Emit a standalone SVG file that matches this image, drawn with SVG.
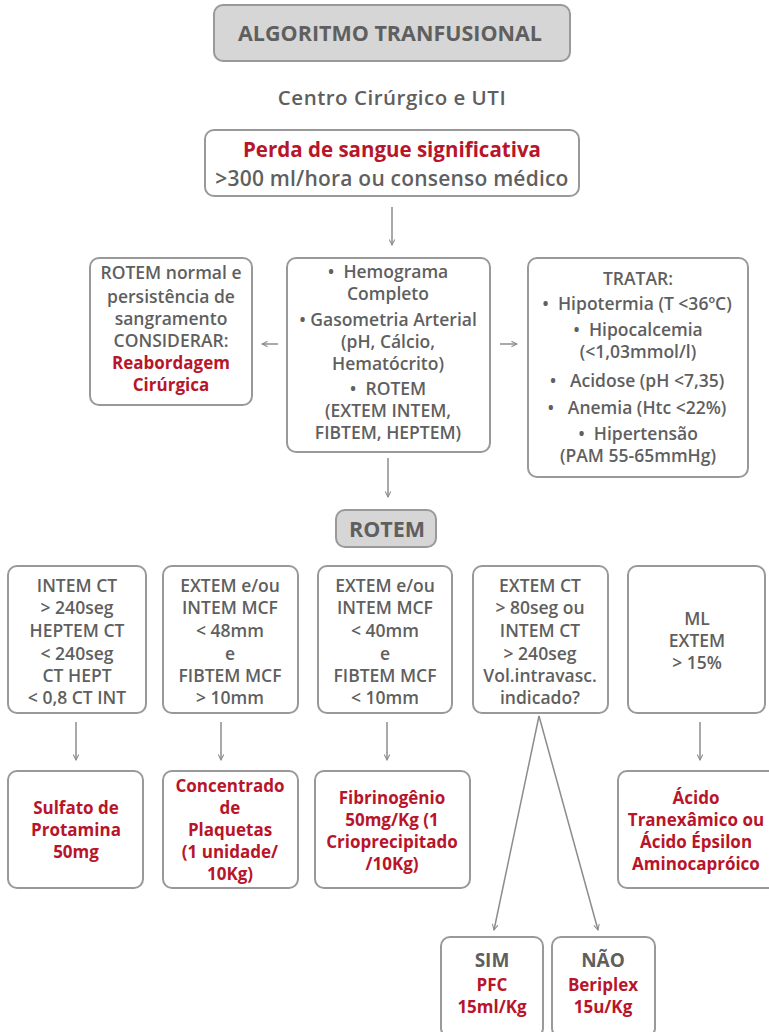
<svg xmlns="http://www.w3.org/2000/svg" width="769" height="1032" viewBox="0 0 769 1032">
<defs>
<style>
.box{fill:#fff;stroke:#999;stroke-width:2}
.gbox{fill:#d6d6d6;stroke:#999;stroke-width:2}
text{font-family:"Open Sans",Lato,"Liberation Sans",sans-serif;text-anchor:middle;fill:#5f5f5f;white-space:pre;font-weight:600}
.t{font-size:17.5px}
.s{font-size:17.5px}
.r{fill:#b8152a;font-weight:bold;font-size:17px}
.h{font-weight:bold;font-size:21.5px}
.c line{stroke:#8c8c8c;stroke-width:1.5;fill:none}
</style>
<marker id="ah" viewBox="0 0 10 10" refX="9" refY="5" markerWidth="7" markerHeight="7" orient="auto" markerUnits="userSpaceOnUse">
<path d="M1,1 L9,5 L1,9" fill="none" stroke="#8c8c8c" stroke-width="1.5"/>
</marker>
</defs>
<rect width="769" height="1032" fill="#fff"/>

<g id="title">
<rect class="gbox" x="214" y="5" width="356" height="56" rx="9"/>
<text class="h" x="390" y="41">ALGORITMO TRANFUSIONAL</text>
</g>
<g id="subtitle">
<text x="392" y="105" style="font-size:20.5px;letter-spacing:0.5px">Centro Cirúrgico e UTI</text>
</g>
<g id="perda">
<rect class="box" x="205" y="130" width="374" height="66" rx="9"/>
<text x="392" y="157" style="fill:#b8152a;font-weight:bold;font-size:20.5px">Perda de sangue significativa</text>
<text x="392" y="186" style="font-size:21px;letter-spacing:0.2px">&gt;300 ml/hora ou consenso médico</text>
</g>

<g id="rotem-normal">
<rect class="box" x="90" y="258" width="162" height="147" rx="9"/>
<text class="t" x="171" y="279">ROTEM normal e</text>
<text class="t" x="171" y="303">persistência de</text>
<text class="t" x="171" y="325">sangramento</text>
<text class="t" x="171" y="347">CONSIDERAR:</text>
<text class="r" x="171" y="369">Reabordagem</text>
<text class="r" x="171" y="391">Cirúrgica</text>
</g>
<g id="exames">
<rect class="box" x="287" y="258" width="203" height="194" rx="9"/>
<text class="t" x="388" y="278">•  Hemograma</text>
<text class="t" x="388" y="300">Completo</text>
<text class="t" x="388" y="326">• Gasometria Arterial</text>
<text class="t" x="388" y="348">(pH, Cálcio,</text>
<text class="t" x="388" y="370">Hematócrito)</text>
<text class="t" x="388" y="395">•  ROTEM</text>
<text class="t" x="388" y="417">(EXTEM INTEM,</text>
<text class="t" x="388" y="439">FIBTEM, HEPTEM)</text>
</g>
<g id="tratar">
<rect class="box" x="528" y="258" width="220" height="219" rx="9"/>
<text class="t" x="638" y="285">TRATAR:</text>
<text class="t" x="637" y="310">•  Hipotermia (T &lt;36ºC)</text>
<text class="t" x="638" y="336">•  Hipocalcemia</text>
<text class="t" x="638" y="358">(&lt;1,03mmol/l)</text>
<text class="t" x="637" y="387">•   Acidose (pH &lt;7,35)</text>
<text class="t" x="637" y="414">•   Anemia (Htc &lt;22%)</text>
<text class="t" x="638" y="440">•  Hipertensão</text>
<text class="t" x="638" y="462">(PAM 55-65mmHg)</text>
</g>

<g id="rotem">
<rect class="gbox" x="336" y="510" width="100" height="37" rx="9"/>
<text class="h" x="387" y="537">ROTEM</text>
</g>

<g id="c1">
<rect class="box" x="8" y="566" width="138" height="147" rx="9"/>
<text class="s" x="77" y="592">INTEM CT</text>
<text class="s" x="77" y="614">&gt; 240seg</text>
<text class="s" x="77" y="637">HEPTEM CT</text>
<text class="s" x="77" y="660">&lt; 240seg</text>
<text class="s" x="77" y="682">CT HEPT</text>
<text class="s" x="77" y="704">&lt; 0,8 CT INT</text>
</g>
<g id="c2">
<rect class="box" x="163" y="566" width="135" height="147" rx="9"/>
<text class="s" x="230" y="592">EXTEM e/ou</text>
<text class="s" x="230" y="614">INTEM MCF</text>
<text class="s" x="230" y="637">&lt; 48mm</text>
<text class="s" x="230" y="660">e</text>
<text class="s" x="230" y="682">FIBTEM MCF</text>
<text class="s" x="230" y="704">&gt; 10mm</text>
</g>
<g id="c3">
<rect class="box" x="318" y="566" width="134" height="147" rx="9"/>
<text class="s" x="385" y="592">EXTEM e/ou</text>
<text class="s" x="385" y="614">INTEM MCF</text>
<text class="s" x="385" y="637">&lt; 40mm</text>
<text class="s" x="385" y="660">e</text>
<text class="s" x="385" y="682">FIBTEM MCF</text>
<text class="s" x="385" y="704">&lt; 10mm</text>
</g>
<g id="c4">
<rect class="box" x="473" y="566" width="135" height="147" rx="9"/>
<text class="s" x="540" y="592">EXTEM CT</text>
<text class="s" x="540" y="614">&gt; 80seg ou</text>
<text class="s" x="540" y="637">INTEM CT</text>
<text class="s" x="540" y="660">&gt; 240seg</text>
<text class="s" x="540" y="682">Vol.intravasc.</text>
<text class="s" x="540" y="704">indicado?</text>
</g>
<g id="c5">
<rect class="box" x="628" y="566" width="137" height="147" rx="9"/>
<text class="s" x="697" y="625">ML</text>
<text class="s" x="697" y="647">EXTEM</text>
<text class="s" x="697" y="669">&gt; 15%</text>
</g>

<g id="d1">
<rect class="box" x="8" y="771" width="135" height="117" rx="9"/>
<text class="r" x="76" y="814">Sulfato de</text>
<text class="r" x="76" y="836">Protamina</text>
<text class="r" x="76" y="858">50mg</text>
</g>
<g id="d2">
<rect class="box" x="163" y="771" width="135" height="117" rx="9"/>
<text class="r" x="230" y="792">Concentrado</text>
<text class="r" x="230" y="814">de</text>
<text class="r" x="230" y="836">Plaquetas</text>
<text class="r" x="230" y="858">(1 unidade/</text>
<text class="r" x="230" y="880">10Kg)</text>
</g>
<g id="d3">
<rect class="box" x="315" y="771" width="155" height="117" rx="9"/>
<text class="r" x="392" y="804">Fibrinogênio</text>
<text class="r" x="392" y="826">50mg/Kg (1</text>
<text class="r" x="392" y="848">Crioprecipitado</text>
<text class="r" x="392" y="870">/10Kg)</text>
</g>
<g id="d5">
<rect class="box" x="618" y="771" width="160" height="117" rx="9"/>
<text class="r" x="696" y="804">Ácido</text>
<text class="r" x="696" y="826">Tranexâmico ou</text>
<text class="r" x="696" y="848">Ácido Épsilon</text>
<text class="r" x="696" y="870">Aminocapróico</text>
</g>
<g id="sim">
<rect class="box" x="441" y="937" width="102" height="100" rx="9"/>
<text x="492" y="967" style="font-weight:bold;font-size:19px">SIM</text>
<text class="r" x="492" y="991">PFC</text>
<text class="r" x="492" y="1013">15ml/Kg</text>
</g>
<g id="nao">
<rect class="box" x="552" y="937" width="103" height="100" rx="9"/>
<text x="603" y="967" style="font-weight:bold;font-size:19px">NÃO</text>
<text class="r" x="603" y="991">Beriplex</text>
<text class="r" x="603" y="1013">15u/Kg</text>
</g>

<g class="c" id="connectors">
<line x1="392" y1="207" x2="392" y2="245" marker-end="url(#ah)"/>
<line x1="278" y1="344" x2="262" y2="344" marker-end="url(#ah)"/>
<line x1="500" y1="344" x2="517" y2="344" marker-end="url(#ah)"/>
<line x1="388" y1="458" x2="388" y2="497" marker-end="url(#ah)"/>
<line x1="76" y1="722" x2="76" y2="760" marker-end="url(#ah)"/>
<line x1="221" y1="722" x2="221" y2="760" marker-end="url(#ah)"/>
<line x1="387" y1="722" x2="387" y2="760" marker-end="url(#ah)"/>
<line x1="700" y1="722" x2="700" y2="760" marker-end="url(#ah)"/>
<line x1="539" y1="716" x2="494" y2="930" marker-end="url(#ah)"/>
<line x1="539" y1="716" x2="598" y2="930" marker-end="url(#ah)"/>
</g>
</svg>
